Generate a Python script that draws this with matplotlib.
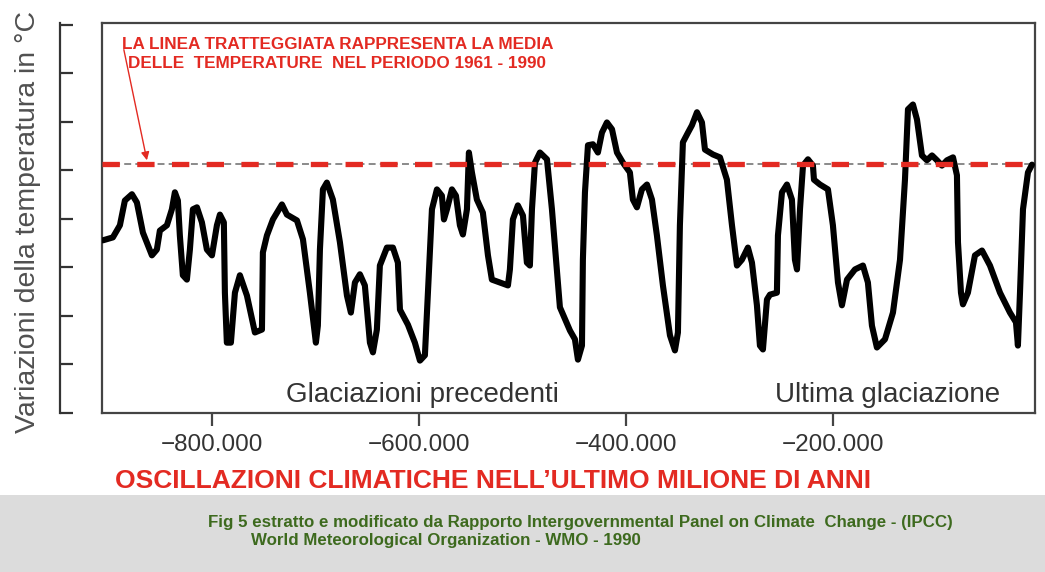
import matplotlib
matplotlib.use("Agg")
import matplotlib.pyplot as plt
from matplotlib.patches import Rectangle
from matplotlib.ticker import FixedLocator, FuncFormatter, NullFormatter

plt.rcParams["font.family"] = ["Liberation Sans", "DejaVu Sans"]
plt.rcParams["lines.scale_dashes"] = False

# migliaia di anni fa (ka) e variazione di temperatura (unita' arbitrarie, °C)
ka = [-905.1, -895.5, -888.7, -883.9, -877.1, -872.3, -866.5, -857.8, -853.0, -850.1,
      -843.3, -838.5, -835.6, -832.7, -830.8, -827.9, -824.0, -821.1, -818.2, -814.3,
      -809.5, -804.7, -799.8, -795.0, -792.1, -788.3, -787.3, -785.4, -781.5, -777.6,
      -772.8, -766.0, -758.3, -751.5, -750.6, -746.7, -740.9, -732.2, -727.4, -717.7,
      -711.9, -705.2, -699.4, -697.5, -695.5, -692.6, -688.8, -683.0, -676.2, -669.4,
      -665.6, -661.7, -656.9, -652.1, -647.2, -644.3, -640.5, -637.6, -630.8, -625.0,
      -620.2, -618.2, -610.5, -603.8, -598.9, -594.1, -591.2, -587.3, -582.5, -577.7,
      -575.7, -572.8, -568.0, -564.1, -560.3, -557.4, -553.5, -551.6, -548.7, -543.9,
      -538.1, -533.2, -529.4, -521.6, -513.9, -512.0, -509.1, -504.3, -499.4, -495.6,
      -492.7, -490.7, -487.8, -483.0, -476.2, -471.4, -463.7, -454.0, -449.2, -446.3,
      -442.4, -441.5, -439.5, -436.6, -431.8, -427.0, -423.1, -418.3, -413.4, -408.6,
      -402.8, -396.1, -393.2, -389.3, -384.5, -379.6, -374.8, -370.0, -364.2, -357.4,
      -352.6, -349.7, -347.8, -344.9, -340.0, -336.2, -331.3, -326.5, -323.6, -315.9,
      -309.1, -302.4, -297.5, -292.7, -287.9, -282.1, -278.2, -273.4, -270.5, -267.6,
      -263.7, -260.8, -254.1, -253.1, -249.2, -244.4, -239.6, -236.7, -234.7, -231.8,
      -228.9, -224.1, -219.3, -218.3, -212.5, -204.8, -200.0, -195.1, -191.3, -186.4,
      -178.7, -171.0, -166.2, -162.3, -157.5, -149.7, -142.0, -135.2, -130.4, -127.5,
      -122.7, -118.8, -114.0, -109.2, -104.3, -99.5, -94.7, -89.8, -84.0, -80.2,
      -79.2, -76.3, -74.4, -69.6, -62.8, -56.0, -48.3, -38.6, -29.0, -23.2,
      -21.3, -19.3, -16.4, -11.6, -7.7]
temp = [-1.44, -1.38, -1.13, -0.62, -0.49, -0.66, -1.28, -1.75, -1.63, -1.24,
        -1.13, -0.80, -0.45, -0.62, -1.34, -2.16, -2.25, -1.63, -0.80, -0.76,
        -1.07, -1.63, -1.75, -1.13, -0.91, -1.07, -2.52, -3.55, -3.55, -2.52,
        -2.16, -2.58, -3.34, -3.28, -1.69, -1.34, -1.01, -0.70, -0.91, -1.03,
        -1.42, -2.52, -3.55, -3.20, -1.63, -0.39, -0.25, -0.60, -1.48, -2.58,
        -2.93, -2.31, -2.14, -2.37, -3.55, -3.75, -3.28, -1.96, -1.59, -1.59,
        -1.90, -2.87, -3.18, -3.55, -3.92, -3.81, -2.52, -0.80, -0.39, -0.52,
        -1.01, -0.80, -0.39, -0.52, -1.13, -1.32, -0.80, 0.37, -0.04, -0.60,
        -0.87, -1.75, -2.25, -2.31, -2.37, -2.04, -1.01, -0.72, -0.93, -1.90,
        -1.96, -0.80, 0.16, 0.37, 0.23, -0.80, -2.82, -3.30, -3.48, -3.90,
        -3.61, -1.84, -0.45, 0.52, 0.54, 0.37, 0.78, 0.99, 0.85, 0.37,
        0.16, -0.04, -0.60, -0.76, -0.39, -0.29, -0.60, -1.34, -2.37, -3.40,
        -3.71, -3.34, -1.13, 0.58, 0.78, 0.93, 1.20, 0.99, 0.43, 0.33,
        0.27, -0.19, -1.13, -1.96, -1.84, -1.59, -1.90, -2.78, -3.61, -3.69,
        -2.66, -2.56, -2.52, -1.34, -0.45, -0.29, -0.60, -1.84, -2.04, -0.80,
        0.10, 0.23, 0.10, -0.19, -0.29, -0.39, -1.13, -2.31, -2.78, -2.25,
        -2.04, -1.96, -2.31, -3.20, -3.65, -3.48, -2.93, -1.84, -0.19, 1.26,
        1.36, 1.05, 0.31, 0.21, 0.31, 0.21, 0.10, 0.21, 0.27, -0.10,
        -1.48, -2.52, -2.76, -2.52, -1.75, -1.65, -1.96, -2.52, -2.93, -3.13,
        -3.61, -2.52, -0.80, -0.04, 0.12]
mean_1961_1990 = 0.14

x_ticks = [-800, -600, -400, -200]
y_ticks = [-5, -4, -3, -2, -1, 0, 1, 2, 3]

RED = "#e32a22"
TXT = "#333333"

fig = plt.figure(figsize=(10.45, 5.72), dpi=100)
fig.patch.set_facecolor("white")
fig.patches.append(Rectangle((0, 0), 1, 0.135, transform=fig.transFigure,
                             facecolor="#dcdcdc", edgecolor="none", zorder=0))

ax = fig.add_axes([102 / 1045, 159 / 572, 933 / 1045, 390 / 572])
ax.plot(ka, temp, color="black", lw=4.4, solid_joinstyle="round",
        solid_capstyle="round", zorder=3)
ax.axhline(mean_1961_1990, color="#777777", lw=1.2, dashes=(5, 3), zorder=2)
ax.axhline(mean_1961_1990, color=RED, lw=3.8, dashes=(12.5, 12.5), zorder=4)

ax.set_xlim(-906, -4.8)
ax.set_ylim(-5.0, 3.04)
for s in ax.spines.values():
    s.set_color("#444444")
    s.set_linewidth(1.6)

ax.xaxis.set_major_locator(FixedLocator(x_ticks))
ax.xaxis.set_major_formatter(FuncFormatter(lambda v, p: f"\u2212{abs(v):.0f}.000"))
ax.tick_params(axis="x", direction="out", length=9, width=1.6, color="#444444",
               pad=6, labelsize=17.5, labelcolor=TXT)
ax.set_yticks([])

sec = ax.secondary_yaxis(-0.045)
sec.yaxis.set_major_locator(FixedLocator(y_ticks))
sec.yaxis.set_major_formatter(NullFormatter())
sec.tick_params(axis="y", direction="in", length=9, width=1.6, color="#333333")
sec.spines["left"].set_linewidth(1.6)
sec.spines["left"].set_color("#333333")

ax.text(0.343, 0.046, "Glaciazioni precedenti", transform=ax.transAxes,
        ha="center", va="center", fontsize=20, color=TXT)
ax.text(0.842, 0.046, "Ultima glaciazione", transform=ax.transAxes,
        ha="center", va="center", fontsize=20, color=TXT)

ax.text(0.0214, 0.946, "LA LINEA TRATTEGGIATA RAPPRESENTA LA MEDIA",
        transform=ax.transAxes, ha="left", va="center", fontsize=12.3,
        fontweight="bold", color=RED)
ax.text(0.028, 0.897, "DELLE  TEMPERATURE  NEL PERIODO 1961 - 1990",
        transform=ax.transAxes, ha="left", va="center", fontsize=12.3,
        fontweight="bold", color=RED)
ax.annotate("", xy=(-862.6, 0.21), xytext=(-884.9, 2.49),
            arrowprops=dict(arrowstyle="-|>", color=RED, lw=1.0,
                            mutation_scale=12, shrinkA=0, shrinkB=0))

fig.text(28 / 1045, 1 - 222 / 572, "Variazioni della temperatura in °C",
         rotation=90, ha="center", va="center", fontsize=20.5, color="#505050")

fig.text(115 / 1045, 1 - 481 / 572,
         "OSCILLAZIONI CLIMATICHE NELL\u2019ULTIMO MILIONE DI ANNI",
         ha="left", va="center", fontsize=19, fontweight="bold", color=RED)
fig.text(208 / 1045, 1 - 523 / 572,
         "Fig 5 estratto e modificato da Rapporto Intergovernmental Panel on Climate  Change - (IPCC)",
         ha="left", va="center", fontsize=12.2, fontweight="bold", color="#3d6a1e")
fig.text(251 / 1045, 1 - 540 / 572,
         "World Meteorological Organization - WMO - 1990",
         ha="left", va="center", fontsize=12.2, fontweight="bold", color="#3d6a1e")

fig.savefig("out.png", dpi=100)
